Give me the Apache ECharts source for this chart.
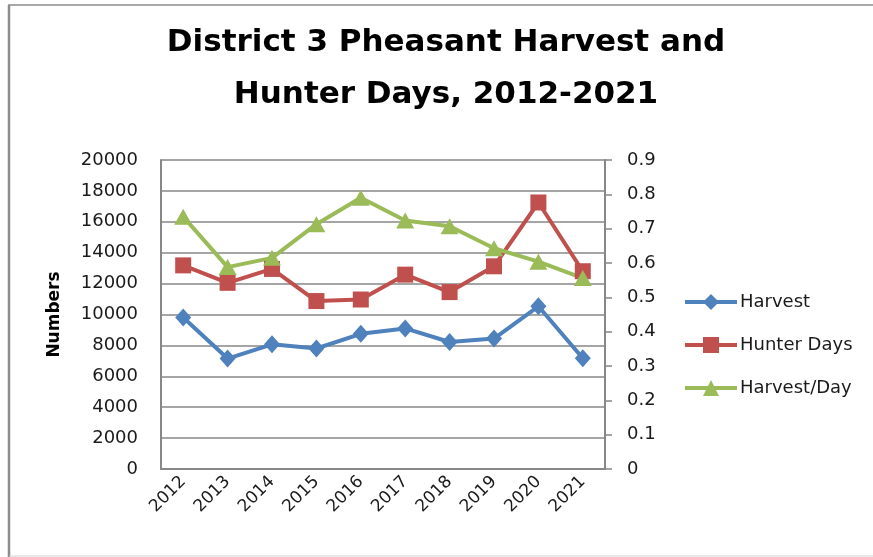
<!DOCTYPE html>
<html>
<head>
<meta charset="utf-8">
<script src="https://cdn.jsdelivr.net/npm/echarts@6/dist/echarts.min.js"></script>
<style>
html,body{margin:0;padding:0;background:#fff;}
#c{width:873px;height:557px;}
</style>
</head>
<body>
<div id="c"></div>
<script>
const years = ['2012','2013','2014','2015','2016','2017','2018','2019','2020','2021'];
const harvest = [9800, 7150, 8070, 7800, 8750, 9100, 8220, 8440, 10530, 7170];
const hunterDays = [13180, 12050, 12950, 10870, 10970, 12580, 11450, 13120, 17250, 12800];
const harvestPerDay = [0.735, 0.588, 0.615, 0.713, 0.79, 0.724, 0.707, 0.643, 0.604, 0.556];
const leftTicks = {min: 0, max: 20000, interval: 2000};
const rightTicks = {min: 0, max: 0.9, interval: 0.1};
const titleLines = ['District 3 Pheasant Harvest and', 'Hunter Days, 2012-2021'];

const FONT = 'DejaVu Sans';
const TXT = '#1a1a1a';
const GRID = '#878787';

const chart = echarts.init(document.getElementById('c'), null, {renderer: 'canvas'});
chart.setOption({
  backgroundColor: '#fff',
  animation: false,
  legend: {
    orient: 'vertical',
    left: 683,
    top: 292,
    padding: 0,
    itemWidth: 52,
    itemHeight: 20,
    itemGap: 23,
    lineStyle: {width: 4},
    textStyle: {fontFamily: FONT, fontSize: 18, color: TXT, lineHeight: 20, padding: [0,0,0,-2]},
    data: ['Harvest', 'Hunter Days', 'Harvest/Day']
  },
  grid: {left: 161, right: 268, top: 160, bottom: 88, containLabel: false},
  xAxis: {
    type: 'category',
    data: years,
    boundaryGap: true,
    axisLine: {lineStyle: {color: GRID, width: 2}},
    axisTick: {show: false},
    axisLabel: {rotate: 45, margin: 10, fontFamily: FONT, fontSize: 17, color: TXT, interval: 0}
  },
  yAxis: [
    {
      type: 'value',
      min: leftTicks.min, max: leftTicks.max, interval: leftTicks.interval,
      name: 'Numbers',
      nameLocation: 'middle',
      nameRotate: 90,
      nameGap: 98,
      nameTextStyle: {fontFamily: FONT, fontWeight: 'bold', fontSize: 17, color: '#000'},
      axisLine: {show: true, lineStyle: {color: GRID, width: 2}},
      axisTick: {show: false},
      splitLine: {show: true, lineStyle: {color: GRID, width: 1.5}},
      axisLabel: {margin: 23, fontFamily: FONT, fontSize: 18, color: TXT, formatter: v => String(v)}
    },
    {
      type: 'value',
      min: rightTicks.min, max: rightTicks.max, interval: rightTicks.interval,
      position: 'right',
      axisLine: {show: true, lineStyle: {color: GRID, width: 2}},
      axisTick: {show: true, length: 7, lineStyle: {color: GRID, width: 1.5}},
      splitLine: {show: false},
      axisLabel: {margin: 22, fontFamily: FONT, fontSize: 18, color: TXT,
        formatter: v => (Math.round(v*10)/10).toString()}
    }
  ],
  series: [
    {
      name: 'Harvest', type: 'line', yAxisIndex: 0, data: harvest,
      symbol: 'diamond', symbolSize: [16, 18],
      lineStyle: {width: 4, color: '#4F81BD'},
      itemStyle: {color: '#4F81BD'}
    },
    {
      name: 'Hunter Days', type: 'line', yAxisIndex: 0, data: hunterDays,
      symbol: 'rect', symbolSize: 16,
      lineStyle: {width: 4, color: '#C0504D'},
      itemStyle: {color: '#C0504D'}
    },
    {
      name: 'Harvest/Day', type: 'line', yAxisIndex: 1, data: harvestPerDay,
      symbol: 'triangle', symbolSize: [18, 16],
      lineStyle: {width: 4, color: '#9BBB59'},
      itemStyle: {color: '#9BBB59'}
    }
  ],
  graphic: [
    {type: 'text', x: 446, y: 43, style: {text: titleLines[0], font: 'bold 31px "DejaVu Sans"', fill: '#000', textAlign: 'center', textVerticalAlign: 'middle'}},
    {type: 'text', x: 446, y: 95, style: {text: titleLines[1], font: 'bold 31px "DejaVu Sans"', fill: '#000', textAlign: 'center', textVerticalAlign: 'middle'}},
    {type: 'line', shape: {x1: 8, y1: 5, x2: 873, y2: 5}, style: {stroke: '#8c8c8c', lineWidth: 1.5}},
    {type: 'line', shape: {x1: 9, y1: 5, x2: 9, y2: 557}, style: {stroke: '#8c8c8c', lineWidth: 2.5}},
    {type: 'line', shape: {x1: 9, y1: 556, x2: 873, y2: 556}, style: {stroke: '#cfcfcf', lineWidth: 1}}
  ]
});
</script>
</body>
</html>
